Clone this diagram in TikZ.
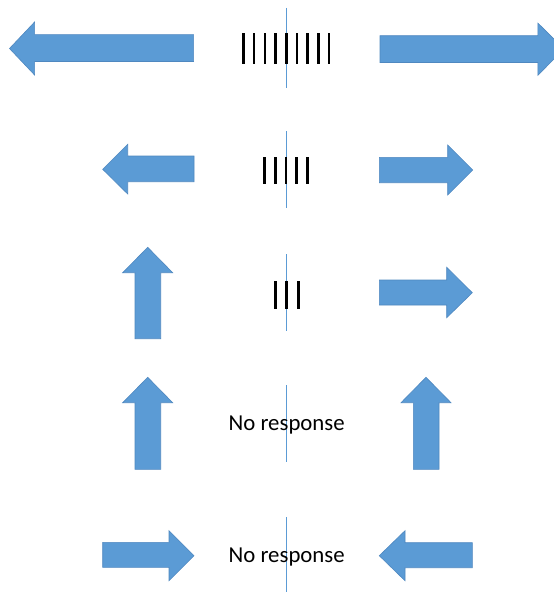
\documentclass[tikz,border=0pt]{standalone}
\usepackage{fontspec}
\setmainfont{Carlito}
\definecolor{arrowblue}{HTML}{5B9BD5}
\definecolor{arrowedge}{HTML}{4F88C0}
\definecolor{axisblue}{HTML}{5B9BD5}
\tikzset{
  bigarrow/.style={fill=arrowblue, draw=arrowedge, line width=0.6pt, line join=miter},
  axisline/.style={draw=axisblue, line width=1pt},
  tickbar/.style={draw=black, line width=2.6pt},
  label/.style={font=\fontsize{22.8}{27}\selectfont, inner sep=0pt, anchor=base}
}
\begin{document}
\begin{tikzpicture}[x=1pt,y=-1pt]
\useasboundingbox (0,0) rectangle (554,592);
\fill[white] (0,0) rectangle (554,592);

% vertical reference lines
\draw[axisline] (286.2,7.8) -- (286.2,88.3);
\draw[axisline] (286.2,131) -- (286.2,207.7);
\draw[axisline] (286.2,254) -- (286.2,330.7);
\draw[axisline] (286.2,385) -- (286.2,461.7);
\draw[axisline] (286.2,517.3) -- (286.2,592);

% row 1
\draw[bigarrow] (193.6,34.6) -- (34.6,34.6) -- (34.6,22) -- (9.5,48.5) -- (34.6,75) -- (34.6,61.5) -- (193.6,61.5) -- cycle;
\draw[bigarrow] (380,35.7) -- (537.8,35.7) -- (537.8,23) -- (564,49) -- (537.8,75.3) -- (537.8,62.5) -- (380,62.5) -- cycle;
\foreach \k in {0,...,8} {
  \draw[tickbar] ({243.4+10.7*\k},33) -- ({243.4+10.7*\k},63.5);
}

% row 2
\draw[bigarrow] (194,156) -- (127.7,156) -- (127.7,144.3) -- (102.7,169.3) -- (127.7,194) -- (127.7,181.7) -- (194,181.7) -- cycle;
\draw[bigarrow] (379.3,157.3) -- (447.7,157.3) -- (447.7,145) -- (472.7,170) -- (447.7,195) -- (447.7,182.7) -- (379.3,182.7) -- cycle;
\foreach \k in {0,...,4} {
  \draw[tickbar] ({264.5+10.75*\k},157.3) -- ({264.5+10.75*\k},184.3);
}

% row 3
\draw[bigarrow] (135,338.7) -- (135,272.7) -- (122.7,272.7) -- (147.7,247.3) -- (172.7,272.7) -- (160.7,272.7) -- (160.7,338.7) -- cycle;
\draw[bigarrow] (379.3,280) -- (446.7,280) -- (446.7,267.3) -- (472.3,292.7) -- (446.7,317.7) -- (446.7,305) -- (379.3,305) -- cycle;
\foreach \x in {275.7,286.7,298.3} {
  \draw[tickbar] (\x,281) -- (\x,309.3);
}

% row 4
\draw[bigarrow] (135,469.3) -- (135,402.7) -- (122.7,402.7) -- (147.7,377.3) -- (172.7,402.7) -- (160.7,402.7) -- (160.7,469.3) -- cycle;
\draw[bigarrow] (413.3,469.3) -- (413.3,402.7) -- (401,402.7) -- (426,377.3) -- (451,402.7) -- (439,402.7) -- (439,469.3) -- cycle;
\node[label] (nr1) at (286.7,430.7) {No response};

% row 5
\draw[bigarrow] (102.7,542.3) -- (169,542.3) -- (169,530.7) -- (194,555.7) -- (169,580.7) -- (169,567.3) -- (102.7,567.3) -- cycle;
\draw[bigarrow] (472.3,542.7) -- (405,542.7) -- (405,530.7) -- (379.3,555.7) -- (405,580.7) -- (405,567.7) -- (472.3,567.7) -- cycle;
\node[label] (nr2) at (286.7,562.3) {No response};
\end{tikzpicture}
\end{document}
